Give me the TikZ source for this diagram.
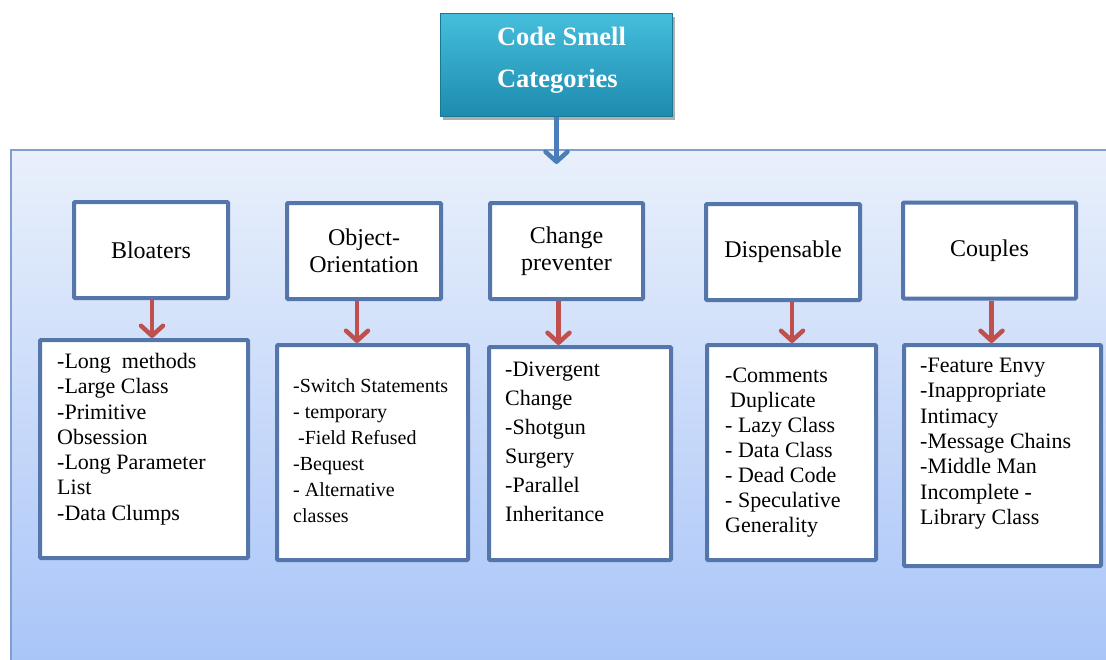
\documentclass[tikz,border=0pt]{standalone}
\usepackage{fontspec}
\setmainfont{Liberation Serif}
\usetikzlibrary{arrows.meta,shadows}
\definecolor{panelTop}{HTML}{E9F0FB}
\definecolor{panelBot}{HTML}{A8C4F8}
\definecolor{panelEdge}{HTML}{7F9FCF}
\definecolor{boxEdge}{HTML}{5576AB}
\definecolor{redArrow}{HTML}{C0504D}
\definecolor{blueArrow}{HTML}{4A7EBB}
\definecolor{titleTop}{HTML}{45BEDC}
\definecolor{titleBot}{HTML}{1D8BAE}
\definecolor{titleEdge}{HTML}{1A7896}
\begin{document}
\begin{tikzpicture}[x=1pt,y=-1pt,
  titlebox/.style={top color=titleTop, bottom color=titleBot, draw=titleEdge, line width=1pt,
    minimum width=232pt, minimum height=103pt, inner sep=0pt, align=left, text=white,
    font=\bfseries\fontsize{26.5}{42}\selectfont,
    drop shadow={shadow xshift=2pt, shadow yshift=-3pt, opacity=0.45, fill=black!70}},
  catbox/.style={draw=boxEdge, line width=4pt, fill=white, minimum width=#1, minimum height=96pt,
    inner sep=0pt, align=center, rounded corners=1pt, font=\fontsize{24}{27}\selectfont},
  listbox/.style={draw=boxEdge, line width=4pt, fill=white, inner sep=0pt, rounded corners=1pt},
  listtext/.style={anchor=north west, inner sep=0pt, align=left},
  redarrow/.style={draw=redArrow, line width=4.5pt, -{Straight Barb[length=10pt,width=22pt,round]}},
  bluearrow/.style={draw=blueArrow, line width=4.5pt, -{Straight Barb[length=10pt,width=22pt,round]}}
]
\useasboundingbox (0,0) rectangle (1106,659);
\fill[white] (0,0) rectangle (1106,659);
% panel
\shade[top color=panelTop, bottom color=panelBot, draw=panelEdge, line width=1.5pt] (11,150) rectangle (1116,670);

% title
\node[titlebox] (title) at (556.5,65) {\hspace*{10pt}Code Smell\\\hspace*{10pt}Categories\rule[-15pt]{0pt}{0pt}};
\coordinate (paneltip) at (title.south |- 0,164);
\draw[bluearrow] (title.south) -- (paneltip);

% categories
\node[catbox=154pt] (c1) at (151,250) {Bloaters};
\node[catbox=154pt] (c2) at (364,251) {Object-\\Orientation};
\node[catbox=153pt] (c3) at (566.5,251) {Change\\preventer};
\node[catbox=154pt] (c4) at (783,252) {Dispensable};
\node[catbox=173pt] (c5) at (989.5,250.5) {Couples};

% lists
\node[listbox, minimum width=208pt, minimum height=218pt] (l1) at (144,449) {};
\node[listbox, minimum width=191pt, minimum height=215pt] (l2) at (372.5,452.5) {};
\node[listbox, minimum width=182pt, minimum height=213pt] (l3) at (580,453.5) {};
\node[listbox, minimum width=169pt, minimum height=215pt] (l4) at (791.5,452.5) {};
\node[listbox, minimum width=197pt, minimum height=221pt] (l5) at (1002.5,455.5) {};

\node[listtext, font=\fontsize{22}{25.3}\selectfont] (t1) at (57,353)
  {-Long\ \ methods\\-Large Class\\-Primitive\\Obsession\\-Long Parameter\\List\\-Data Clumps};
\node[listtext, font=\fontsize{20}{26}\selectfont] (t2) at (293,378.5)
  {-Switch Statements\\- temporary\\\hspace*{5pt}-Field Refused\\-Bequest\\- Alternative\\classes};
\node[listtext, font=\fontsize{22}{29}\selectfont] (t3) at (505,362)
  {-Divergent\\Change\\-Shotgun\\Surgery\\-Parallel\\Inheritance};
\node[listtext, font=\fontsize{22}{25}\selectfont] (t4) at (725,368)
  {-Comments\\\hspace*{5pt}Duplicate\\- Lazy Class\\- Data Class\\- Dead Code\\- Speculative\\Generality};
\node[listtext, font=\fontsize{22}{25.3}\selectfont] (t5) at (920,358)
  {-Feature Envy\\-Inappropriate\\Intimacy\\-Message Chains\\-Middle Man\\Incomplete -\\Library Class};

% red arrows
\draw[redarrow] ([xshift=1pt]c1.south) -- ([xshift=1pt]c1.south |- l1.north);
\draw[redarrow] ([xshift=-7pt]c2.south) -- ([xshift=-7pt]c2.south |- l2.north);
\draw[redarrow] ([xshift=-8pt]c3.south) -- ([xshift=-8pt]c3.south |- l3.north);
\draw[redarrow] ([xshift=9pt]c4.south) -- ([xshift=9pt]c4.south |- l4.north);
\draw[redarrow] ([xshift=2pt]c5.south) -- ([xshift=2pt]c5.south |- l5.north);
\end{tikzpicture}
\end{document}
